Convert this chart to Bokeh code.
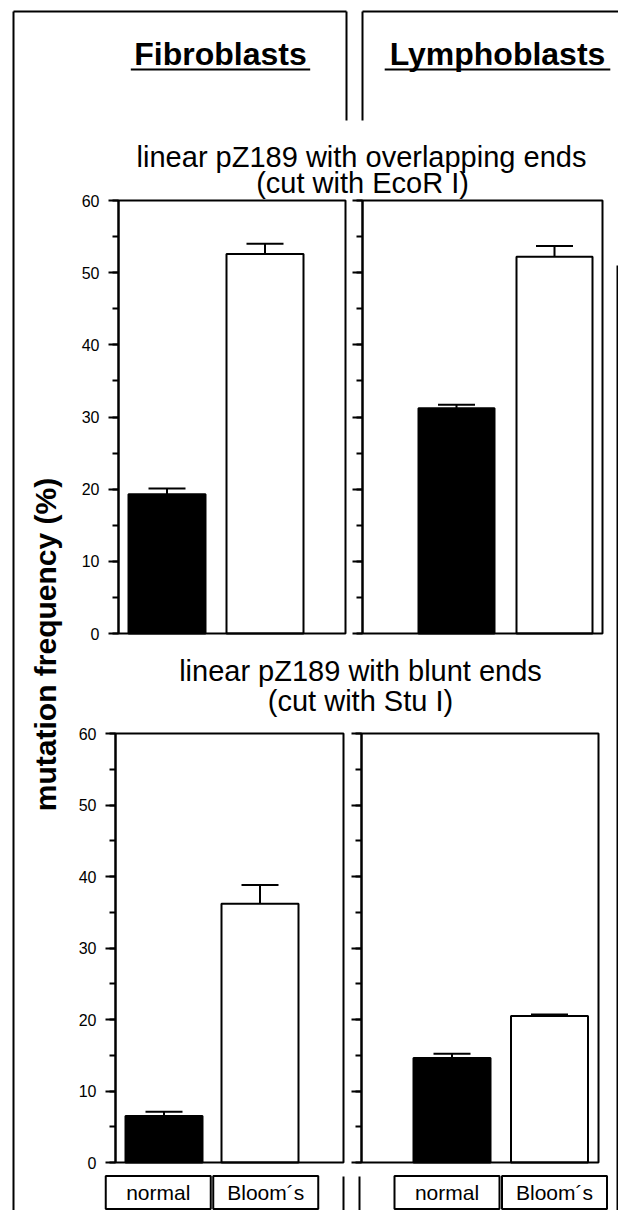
import math
from bokeh.plotting import figure
from bokeh.models import (ColumnDataSource, Range1d, SingleIntervalTicker, LinearAxis,
                          CustomJSTickFormatter, Whisker, TeeHead, BoxAnnotation)
from bokeh.core.properties import value
from bokeh.embed import file_html
from bokeh.resources import INLINE

# ---------------- data ----------------
cell_lines = ["Fibroblasts", "Lymphoblasts"]
groups = ["normal", "Bloom´s"]
group_colors = ["black", "white"]
substrates = ["linear pZ189 with overlapping ends", "linear pZ189 with blunt ends"]
enzymes = ["(cut with EcoR I)", "(cut with Stu I)"]
y_label = "mutation frequency (%)"
y_min, y_max, y_step = 0, 60, 10

# mutation frequency (%) and upper error, order = groups
overlap_fibro = [19.3, 52.6]
overlap_fibro_err = [0.8, 1.4]
overlap_lympho = [31.2, 52.2]
overlap_lympho_err = [0.5, 1.5]
blunt_fibro = [6.5, 36.2]
blunt_fibro_err = [0.6, 2.6]
blunt_lympho = [14.6, 20.5]
blunt_lympho_err = [0.6, 0.2]

# ---------------- canvas (picture pixels, y downwards) ----------------
W, H = 618, 1210
FONT = "Liberation Sans"

p = figure(width=W, height=H, x_range=Range1d(0, W), y_range=Range1d(H, 0),
           toolbar_location=None, output_backend="svg", min_border=0,
           x_axis_location=None, y_axis_location=None, outline_line_color=None,
           background_fill_color="white", border_fill_color="white")
for g in p.grid:
    g.visible = False
p.xgrid.grid_line_color = None
p.ygrid.grid_line_color = None


def seg(x0, y0, x1, y1, w=2):
    p.segment(x0=[x0], y0=[y0], x1=[x1], y1=[y1], line_color="black", line_width=w)


def txt(x, y, s, size, bold=False, angle=0.0):
    p.text(x=[x], y=[y], text=[s], text_font=value(FONT),
           text_font_size=f"{size}px", text_font_style="bold" if bold else "normal",
           text_align="center", text_baseline="middle", angle=angle,
           text_color="black")


def panel(name, vals, errs, frame, centers, bar_px, labels):
    fl, fr, ft, fb = frame
    c0, c1 = centers
    n = len(groups)
    u = (c1 - c0) / (n - 1)              # pixels per category step
    xs = -(c0 - fl) / u                  # data x at frame left
    xe = (n - 1) + (fr - c1) / u         # data x at frame right
    ky = (fb - ft) / (y_max - y_min)     # pixels per % unit
    xn, yn = name + "_x", name + "_y"
    p.extra_x_ranges[xn] = Range1d(xs - fl / u, xe + (W - fr) / u)
    p.extra_y_ranges[yn] = Range1d(y_min - (H - fb) / ky, y_max + ft / ky)

    p.add_layout(BoxAnnotation(left=xs, right=xe, bottom=y_min, top=y_max,
                               x_range_name=xn, y_range_name=yn,
                               fill_color=None, fill_alpha=0,
                               line_color="black", line_alpha=1.0, line_width=2))

    ax = LinearAxis(x_range_name=xn, y_range_name=yn, fixed_location=xs,
                    bounds=(y_min, y_max),
                    ticker=SingleIntervalTicker(interval=y_step, num_minor_ticks=2))
    ax.axis_line_width = 2
    ax.axis_line_color = "black"
    ax.major_tick_line_width = 2
    ax.minor_tick_line_width = 2
    ax.major_tick_line_color = "black"
    ax.minor_tick_line_color = "black"
    ax.major_tick_out = 10
    ax.major_tick_in = 0
    ax.minor_tick_out = 6
    ax.minor_tick_in = 0
    ax.major_label_text_font = FONT
    ax.major_label_text_font_size = "16px"
    ax.major_label_text_color = "black"
    if labels:
        ax.major_label_standoff = 9
    else:
        ax.major_label_standoff = 0
        ax.formatter = CustomJSTickFormatter(code="return ''")
    p.add_layout(ax, "left")

    src = ColumnDataSource(dict(
        x=list(range(n)), y=vals, top=[v + e for v, e in zip(vals, errs)],
        color=group_colors, group=groups))
    p.vbar(x="x", top="y", bottom=y_min, width=bar_px / u, source=src,
           fill_color="color", line_color="black", line_width=2,
           x_range_name=xn, y_range_name=yn)
    p.add_layout(Whisker(base="x", lower="y", upper="top", dimension="height",
                         source=src, line_color="black", line_width=2,
                         upper_head=TeeHead(size=37, line_color="black", line_width=2),
                         lower_head=None, x_range_name=xn, y_range_name=yn))
    return xn, u


# ---------------- frame lines of the figure ----------------
seg(13, 11, 13, H)           # outer left
seg(13, 11, 346, 11)         # top of left box
seg(346, 11, 346, 120)
seg(362, 11, W, 11)          # top of right box
seg(362, 11, 362, 120)
seg(617, 265, 617, H)        # outer right
seg(343, 1176, 343, H)       # bottom separators
seg(359, 1176, 359, H)

# ---------------- titles ----------------
title_size = 32
for name, cx, em in [(cell_lines[0], 220, 5.39), (cell_lines[1], 497, 6.779)]:
    txt(cx, 53, name, title_size, bold=True)
    half = em * title_size * 1.04 / 2
    seg(cx - half, 69, cx + half, 69)

txt(361, 156, substrates[0], 29)
txt(362, 182, enzymes[0], 29)
txt(360, 670, substrates[1], 29)
txt(360, 700, enzymes[1], 29)

txt(45, 644, y_label, 30, bold=True, angle=math.pi / 2)

# ---------------- panels ----------------
panel("tl", overlap_fibro, overlap_fibro_err, (118, 345, 200, 633), (166.5, 264.5), 77, True)
panel("tr", overlap_lympho, overlap_lympho_err, (362, 602, 200, 633), (456, 554), 76, False)
bl = panel("bl", blunt_fibro, blunt_fibro_err, (115, 343, 733, 1162), (163.5, 259.5), 77, True)
br = panel("br", blunt_lympho, blunt_lympho_err, (361, 598, 733, 1162), (451.5, 549), 77, False)

# ---------------- group boxes under the bottom panels ----------------
box_px, box_step_px = 105, 107.5
for xn, u in (bl, br):
    n = len(groups)
    xs = [(n - 1) / 2 + (i - (n - 1) / 2) * box_step_px / u for i in range(n)]
    p.rect(x=xs, y=[1192] * n, width=box_px, width_units="screen",
           height=33, height_units="screen", fill_color="white",
           line_color="black", line_width=2, x_range_name=xn)
    p.text(x=xs, y=[1192] * n, text=groups, text_font=value(FONT),
           text_font_size="21px", text_align="center", text_baseline="middle",
           text_color="black", x_range_name=xn)

open("out.html", "w").write(file_html(p, INLINE, "chart"))
